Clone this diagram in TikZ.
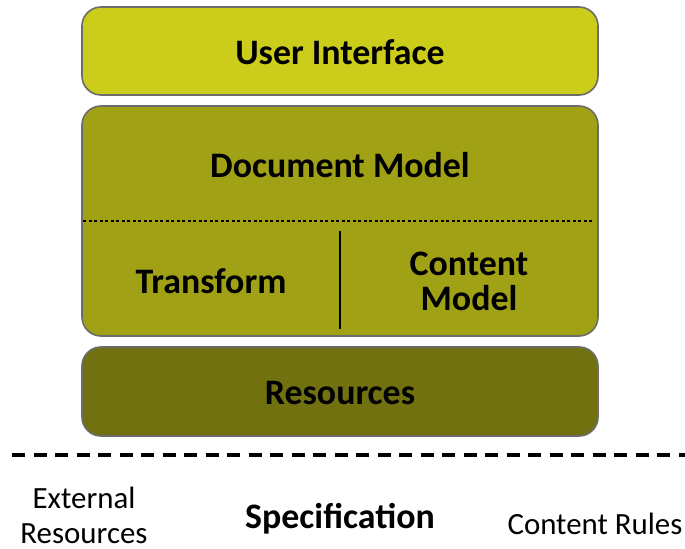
\documentclass[tikz,border=0pt]{standalone}
\usepackage{fontspec}
\setmainfont{Carlito}
\begin{document}
\begin{tikzpicture}[x=1bp,y=-1bp,
  layer/.style={draw=black!58, line width=1.6bp, rounded corners=19bp},
  lbl/.style={font=\fontsize{36}{35}\selectfont\bfseries, align=center, inner sep=0pt},
  foot/.style={font=\fontsize{31}{35}\selectfont, align=center, inner sep=0pt}]
\definecolor{uicol}{HTML}{CCCC1A}
\definecolor{midcol}{HTML}{A1A116}
\definecolor{rescol}{HTML}{717110}
\useasboundingbox (0,0) rectangle (685,549);
% stacked layers
\draw[layer, fill=uicol] (82,7) rectangle (598,95);
\draw[layer, fill=midcol] (82,106) rectangle (598,336);
\draw[layer, fill=rescol] (82,347) rectangle (598,436);
% separators inside the middle layer
\draw[line width=1.5bp, dash pattern=on 3bp off 2.5bp] (83,221) -- (593,221);
\draw[line width=1.8bp] (340,231) -- (340,329);
% labels
\node[lbl] (ui) at (340,52) {User Interface};
\node[lbl] (dm) at (340,165) {Document Model};
\node[lbl] (tr) at (211,281) {Transform};
\node[lbl] (cm) at (469,281) {Content\\Model};
\node[lbl] (rs) at (340,393) {Resources};
% boundary line
\draw[line width=3.2bp, dash pattern=on 13bp off 8.5bp] (12,455) -- (685,455);
% bottom labels
\node[foot] (ext) at (84,515) {External\\Resources};
\node[lbl] (spec) at (340,519) {Specification};
\node[foot] (rules) at (595,524) {Content Rules};
\end{tikzpicture}
\end{document}
